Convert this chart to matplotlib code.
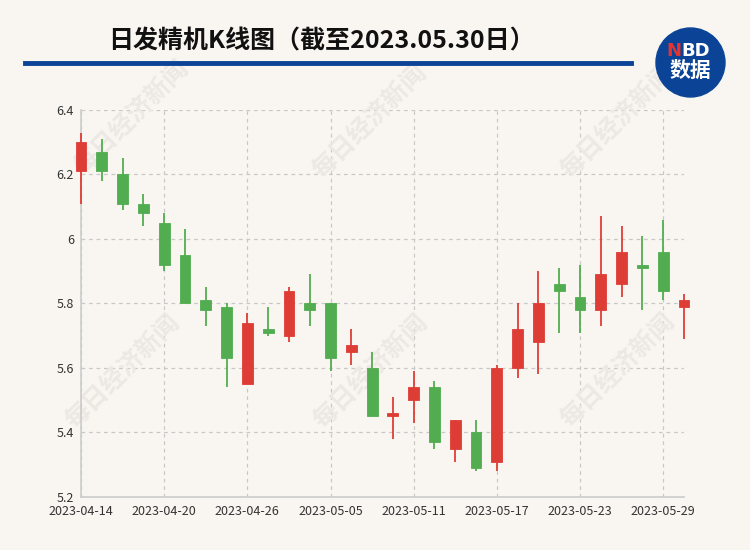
import matplotlib
matplotlib.use("Agg")
import matplotlib.pyplot as plt
from matplotlib.patches import Ellipse
import numpy as np

plt.rcParams["font.family"] = ["Noto Sans CJK SC", "DejaVu Sans"]

# K-line data
dates = ["2023-04-14", "2023-04-17", "2023-04-18", "2023-04-19", "2023-04-20",
         "2023-04-21", "2023-04-24", "2023-04-25", "2023-04-26", "2023-04-27",
         "2023-04-28", "2023-05-04", "2023-05-05", "2023-05-08", "2023-05-09",
         "2023-05-10", "2023-05-11", "2023-05-12", "2023-05-15", "2023-05-16",
         "2023-05-17", "2023-05-18", "2023-05-19", "2023-05-22", "2023-05-23",
         "2023-05-24", "2023-05-25", "2023-05-26", "2023-05-29", "2023-05-30"]
opens = [6.21, 6.27, 6.20, 6.11, 6.05, 5.95, 5.81, 5.79, 5.55, 5.72,
         5.70, 5.80, 5.80, 5.65, 5.60, 5.45, 5.50, 5.54, 5.35, 5.40,
         5.31, 5.60, 5.68, 5.86, 5.82, 5.78, 5.86, 5.92, 5.96, 5.79]
closes = [6.30, 6.21, 6.11, 6.08, 5.92, 5.80, 5.78, 5.63, 5.74, 5.71,
          5.84, 5.78, 5.63, 5.67, 5.45, 5.46, 5.54, 5.37, 5.44, 5.29,
          5.60, 5.72, 5.80, 5.84, 5.78, 5.89, 5.96, 5.91, 5.84, 5.81]
highs = [6.33, 6.31, 6.25, 6.14, 6.08, 6.03, 5.85, 5.80, 5.77, 5.79,
         5.85, 5.89, 5.80, 5.72, 5.65, 5.51, 5.59, 5.56, 5.44, 5.44,
         5.61, 5.80, 5.90, 5.91, 5.92, 6.07, 6.04, 6.01, 6.06, 5.83]
lows = [6.11, 6.18, 6.09, 6.04, 5.90, 5.80, 5.73, 5.54, 5.55, 5.70,
        5.68, 5.73, 5.59, 5.61, 5.45, 5.38, 5.43, 5.35, 5.31, 5.28,
        5.28, 5.57, 5.58, 5.71, 5.71, 5.73, 5.82, 5.78, 5.81, 5.69]
y_ticks = [5.2, 5.4, 5.6, 5.8, 6.0, 6.2, 6.4]
y_labels = ["5.2", "5.4", "5.6", "5.8", "6", "6.2", "6.4"]

title = "日发精机K线图（截至2023.05.30日）"
watermark = "每日经济新闻"

BG = "#f9f6f1"
UP = "#de3d36"
DOWN = "#52ad50"

fig = plt.figure(figsize=(7.5, 5.5), dpi=100, facecolor=BG)
ax = fig.add_axes([0.108, 0.0964, 0.804, 0.7036])
ax.set_facecolor(BG)

x = np.arange(len(dates))
o = np.array(opens)
c = np.array(closes)
colors = [UP if cc >= oo else DOWN for oo, cc in zip(o, c)]

# wicks and bodies; drawn unclipped so the edge candles sit on the frame
ax.vlines(x, lows, highs, colors=colors, linewidth=1.3, zorder=3, clip_on=False)
bodies = ax.bar(x, np.maximum(np.abs(c - o), 0.006), bottom=np.minimum(o, c),
                width=0.52, color=colors, edgecolor=colors, linewidth=0.6, zorder=4)
for b in bodies:
    b.set_clip_on(False)

ax.set_xlim(0, len(dates) - 1)
ax.set_ylim(5.2, 6.4)
ax.set_yticks(y_ticks)
ax.set_yticklabels(y_labels)
ax.set_xticks(x[::4])
ax.set_xticklabels(dates[::4])
ax.tick_params(length=0, labelsize=9, colors="#333333")
ax.tick_params(axis="x", pad=6)
ax.tick_params(axis="y", pad=5)

ax.set_axisbelow(True)
ax.grid(True, color="#c8c8c8", linestyle=(0, (3, 3)), linewidth=0.9)
for side in ["top", "right"]:
    ax.spines[side].set_visible(False)
for side in ["left", "bottom"]:
    ax.spines[side].set_color("#cccccc")
    ax.spines[side].set_linewidth(1.2)

# watermark text behind the candles
marks = [(132, 118), (370, 122), (618, 122), (123, 372), (371, 372), (618, 371)]
for wx, wy in marks:
    ax.text(wx / 750, 1 - wy / 550, watermark, rotation=45, fontsize=18,
            fontweight="bold", color="#ece8e3", ha="center", va="center",
            transform=fig.transFigure, zorder=1, clip_on=False)

# header
fig.text(321 / 750, 1 - 41 / 550, title, fontsize=18, fontweight="bold",
         color="#111111", ha="center", va="center")
fig.add_artist(plt.Line2D([25 / 750, 631 / 750], [1 - 63 / 550, 1 - 63 / 550],
                          color="#0b4497", linewidth=3.5, transform=fig.transFigure))

# NBD badge
fig.add_artist(Ellipse((690.5 / 750, 1 - 62.5 / 550), 69 / 750, 69 / 550,
                       transform=fig.transFigure, color="#0b4497"))
fig.text(681 / 750, 1 - 51 / 550, "N", fontsize=13, fontweight="bold",
         color="#e8322d", ha="right", va="center", family="DejaVu Sans")
fig.text(681 / 750, 1 - 51 / 550, "BD", fontsize=13, fontweight="bold",
         color="white", ha="left", va="center", family="DejaVu Sans")
fig.text(690 / 750, 1 - 70 / 550, "数据", fontsize=15, fontweight="bold",
         color="white", ha="center", va="center")

fig.savefig("out.png", dpi=100, facecolor=BG)
